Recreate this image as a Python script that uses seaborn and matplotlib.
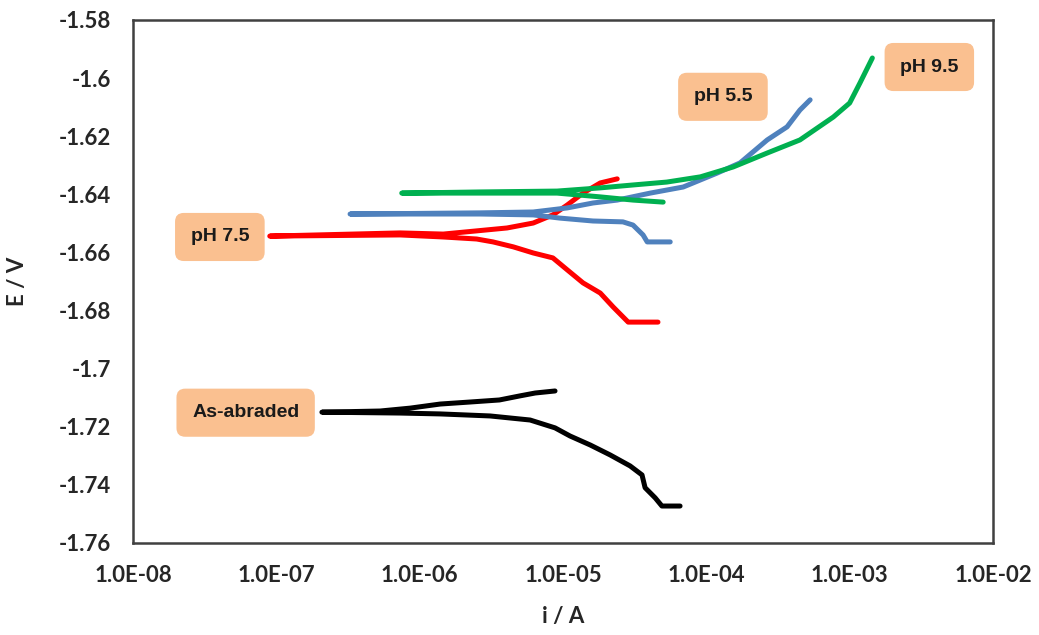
import seaborn as sns
import pandas as pd
import matplotlib.pyplot as plt
from matplotlib.ticker import FixedLocator, FuncFormatter

# polarisation curves
# each one runs: cathodic end -> corrosion potential -> anodic end
abraded_i = [6.56e-5, 4.9e-5, 4.4e-5, 3.74e-5, 3.56e-5, 2.94e-5, 2.13e-5, 1.55e-5, 1.12e-5, 8.8e-6,
             5.9e-6, 3.1e-6, 1.39e-6, 7.3e-7, 2.08e-7,
             5.3e-7, 8.6e-7, 1.39e-6, 2.25e-6, 3.6e-6, 5.0e-6, 6.4e-6, 8.8e-6]
abraded_E = [-1.7473, -1.7473, -1.7445, -1.741, -1.7366, -1.7335, -1.7297, -1.7263, -1.7232, -1.7204,
             -1.7177, -1.7163, -1.7156, -1.7153, -1.715,
             -1.7146, -1.7136, -1.7122, -1.7115, -1.7108, -1.7094, -1.7084, -1.7077]

ph75_i = [4.6e-5, 2.85e-5, 2.24e-5, 1.82e-5, 1.38e-5, 1.07e-5, 8.5e-6, 6.2e-6, 4.5e-6, 3.25e-6,
          2.5e-6, 1.46e-6, 7.3e-7, 9.0e-8,
          7.3e-7, 1.46e-6, 2.5e-6, 4.07e-6, 6.2e-6, 8.5e-6, 1.07e-5, 1.38e-5, 1.82e-5, 2.39e-5]
ph75_E = [-1.684, -1.684, -1.6788, -1.674, -1.6705, -1.666, -1.6619, -1.6602, -1.6581, -1.6564,
          -1.6554, -1.6547, -1.654, -1.6544,
          -1.6533, -1.6537, -1.6526, -1.6516, -1.6499, -1.6471, -1.6437, -1.6396, -1.6361, -1.6347]

ph55_i = [5.6e-5, 3.87e-5, 3.62e-5, 3.08e-5, 2.62e-5, 1.62e-5, 9.5e-6, 6.2e-6, 2.64e-6, 3.27e-7,
          2.64e-6, 6.2e-6, 1.07e-5, 1.62e-5, 2.39e-5, 4.06e-5, 6.9e-5, 1.19e-4, 1.72e-4, 2.66e-4,
          3.66e-4, 4.5e-4, 5.3e-4]
ph55_E = [-1.6564, -1.6564, -1.654, -1.6506, -1.6495, -1.6492, -1.6482, -1.6471, -1.6468, -1.6468,
          -1.6464, -1.6461, -1.6447, -1.643, -1.642, -1.6396, -1.6375, -1.6327, -1.6292, -1.6213,
          -1.6168, -1.611, -1.6075]

ph95_i = [5.0e-5, 3.08e-5, 1.82e-5, 9.1e-6, 2.64e-6, 7.5e-7,
          2.64e-6, 9.1e-6, 1.82e-5, 3.08e-5, 5.3e-5, 9.1e-5, 1.54e-4, 2.66e-4, 4.5e-4, 7.7e-4,
          1.0e-3, 1.18e-3, 1.44e-3]
ph95_E = [-1.6427, -1.642, -1.6409, -1.6396, -1.6396, -1.6396,
          -1.6392, -1.6389, -1.6378, -1.6368, -1.6358, -1.634, -1.6306, -1.6258, -1.6213, -1.6134,
          -1.6086, -1.6017, -1.5931]

curve_names = ["As-abraded", "pH 7.5", "pH 5.5", "pH 9.5"]
y_ticks = [-1.58, -1.6, -1.62, -1.64, -1.66, -1.68, -1.7, -1.72, -1.74, -1.76]
x_ticks = [1e-8, 1e-7, 1e-6, 1e-5, 1e-4, 1e-3, 1e-2]

frames = []
for name, i, E in zip(curve_names, [abraded_i, ph75_i, ph55_i, ph95_i],
                      [abraded_E, ph75_E, ph55_E, ph95_E]):
    frames.append(pd.DataFrame({"i": i, "E": E, "sample": name}))
df = pd.concat(frames, ignore_index=True)

colors = {"As-abraded": "#000000", "pH 7.5": "#FF0000", "pH 5.5": "#4F81BD", "pH 9.5": "#00B050"}

sns.set_style("white")
plt.rcParams['font.family'] = ['Lato', 'DejaVu Sans']

fig = plt.figure(figsize=(10.39, 6.35), dpi=100)
ax = fig.add_axes([0.128, 0.145, 0.8277, 0.8236])

sns.lineplot(data=df, x="i", y="E", hue="sample", palette=colors,
             sort=False, estimator=None, linewidth=3.6, legend=False, ax=ax)

ax.set_xscale("log")
ax.set_xlim(1e-8, 1e-2)
ax.set_ylim(-1.76, -1.58)
ax.xaxis.set_major_locator(FixedLocator(x_ticks))
ax.xaxis.set_minor_locator(FixedLocator([]))
ax.xaxis.set_major_formatter(FuncFormatter(lambda v, p: "%.1E" % v))
ax.set_yticks(y_ticks)
ax.yaxis.set_major_formatter(FuncFormatter(lambda v, p: "%g" % v))

ax.tick_params(axis="both", direction="out", length=6, width=1, color="#a0a0a0",
               labelsize=16, pad=10)
for lab in ax.get_xticklabels() + ax.get_yticklabels():
    lab.set_fontweight("bold")

for sp in ax.spines.values():
    sp.set_color("#404040")
    sp.set_linewidth(1.8)

ax.set_xlabel("i / A", fontsize=16, fontweight="bold", labelpad=14)
ax.set_ylabel("E / V", fontsize=16, fontweight="bold", labelpad=22)

# peach label boxes
box = dict(boxstyle="round,pad=0.8,rounding_size=0.45", facecolor="#FAC090", edgecolor="none")
labels = [("pH 5.5", 0.686, 0.853), ("pH 9.5", 0.926, 0.910),
          ("pH 7.5", 0.101, 0.585), ("As-abraded", 0.131, 0.249)]
for txt, xf, yf in labels:
    ax.text(xf, yf, txt, transform=ax.transAxes, ha="center", va="center",
            fontsize=14, fontweight="bold", family=["Liberation Sans", "DejaVu Sans"],
            color="#1a1a1a", bbox=box, zorder=5)

plt.savefig("out.png", dpi=100)
